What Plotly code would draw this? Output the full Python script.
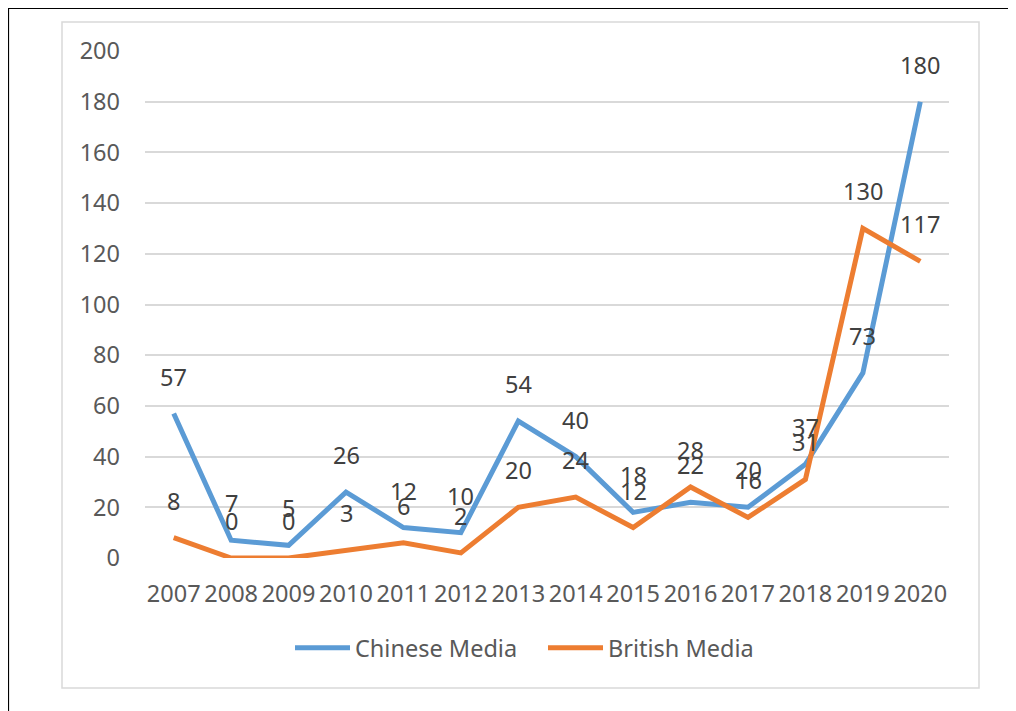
import plotly.graph_objects as go

years = ["2007", "2008", "2009", "2010", "2011", "2012", "2013", "2014",
         "2015", "2016", "2017", "2018", "2019", "2020"]
chinese = [57, 7, 5, 26, 12, 10, 54, 40, 18, 22, 20, 37, 73, 180]
british = [8, 0, 0, 3, 6, 2, 20, 24, 12, 28, 16, 31, 130, 117]
y_ticks = [0, 20, 40, 60, 80, 100, 120, 140, 160, 180, 200]

# page has an 8px body margin; figure coordinates = page coordinates - 8
OFF = 8
W, H = 1016 - OFF, 711 - OFF
L, R, T, B = 145 - OFF, 949 - OFF, 51 - OFF, 558 - OFF
FONT = "Noto Sans"
BLUE = "#5B9BD5"
ORANGE = "#ED7D31"
FS = 23.5

fig = go.Figure()
fig.add_trace(go.Scatter(x=years, y=chinese, mode="lines", name="Chinese Media",
                         line=dict(color=BLUE, width=5)))
fig.add_trace(go.Scatter(x=years, y=british, mode="lines", name="British Media",
                         line=dict(color=ORANGE, width=5)))

annotations = []
for series in (chinese, british):
    for i, yv in enumerate(series):
        annotations.append(dict(x=i, y=yv, xref="x", yref="y", text=str(yv),
                                showarrow=False, yshift=37,
                                font=dict(family=FONT, size=FS, color="#404040")))


def px(x):
    return (x - OFF - L) / (R - L)


def py(y):
    return (B - (y - OFF)) / (B - T)


shapes = [
    dict(type="rect", xref="paper", yref="paper", x0=px(62), x1=px(979), y0=py(688), y1=py(22),
         line=dict(color="#D9D9D9", width=1.5), layer="below"),
    dict(type="rect", xref="paper", yref="paper", x0=px(8.5), x1=px(1100), y0=py(800), y1=py(8.5),
         line=dict(color="#000000", width=1.2), layer="below"),
]

fig.update_layout(
    width=W, height=H,
    margin=dict(l=L, r=W - R, t=T, b=H - B),
    paper_bgcolor="white", plot_bgcolor="white",
    font=dict(family=FONT, size=FS, color="#595959"),
    showlegend=True,
    legend=dict(orientation="h", x=px(290), xanchor="left", y=py(648), yanchor="middle",
                font=dict(family=FONT, size=FS, color="#595959"),
                itemwidth=55, tracegroupgap=0, entrywidth=183, entrywidthmode="pixels"),
    annotations=annotations,
    shapes=shapes,
    xaxis=dict(type="category", range=[-0.5, len(years) - 0.5], showgrid=False,
               zeroline=False, showline=False, ticks="", ticklabelstandoff=19,
               tickfont=dict(family=FONT, size=FS, color="#595959")),
    yaxis=dict(range=[0, 200], tickvals=y_ticks, showgrid=True, gridcolor="#D9D9D9",
               gridwidth=1.5, zeroline=False, showline=False, ticks="",
               ticklabelstandoff=24,
               tickfont=dict(family=FONT, size=FS, color="#595959")),
)

fig.write_html("out.html")
